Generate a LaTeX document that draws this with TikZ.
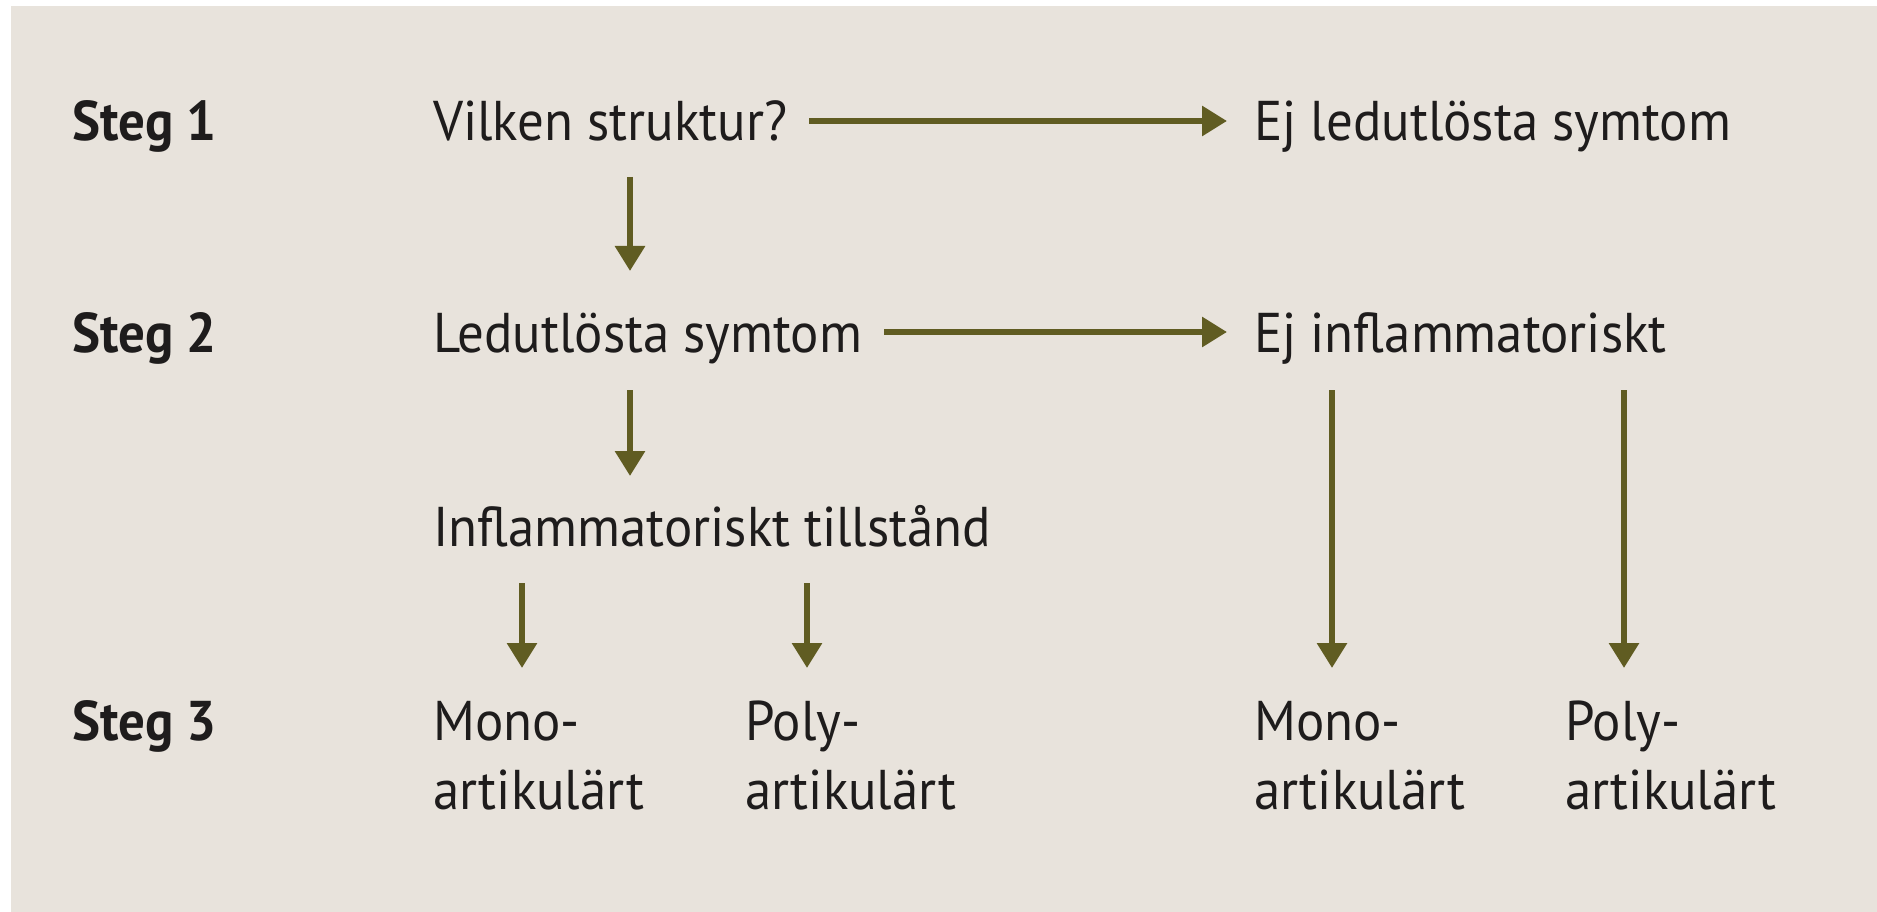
\documentclass[tikz,border=0pt]{standalone}
\usepackage{fontspec}
\setmainfont[FakeStretch=0.945]{PT Sans}
\usetikzlibrary{arrows.meta}
\definecolor{bgbeige}{RGB}{232,227,220}
\definecolor{olive}{RGB}{96,92,34}
\definecolor{ink}{RGB}{30,28,28}
\begin{document}
\begin{tikzpicture}[x=1pt,y=-1pt,
  txt/.style={anchor=base west,inner sep=0pt,text=ink,font=\fontsize{56}{69}\selectfont},
  lbl/.style={txt,font=\fontsize{56}{69}\selectfont\bfseries},
  arr/.style={draw=olive,line width=6pt,-{Triangle[length=25pt,width=29pt]}}]
\fill[white] (0,0) rectangle (1877,912);
\fill[bgbeige] (11,6) rectangle (1877,912);
\useasboundingbox (0,0) rectangle (1877,912);
% labels
\node[lbl] (s1) at (72,141) {Steg 1};
\node[lbl] (s2) at (72,352) {Steg 2};
\node[lbl] (s3) at (72,740) {Steg 3};
% texts
\node[txt] (a) at (433,141) {Vilken struktur?};
\node[txt] (b) at (1254,141) {Ej ledutlösta symtom};
\node[txt] (c) at (433,352) {Ledutlösta symtom};
\node[txt] (d) at (1254,352) {Ej inflammatoriskt};
\node[txt] (e) at (433,546) {Inflammatoriskt tillstånd};
\node[txt] (f) at (433,740) {\begin{tabular}[t]{@{}l@{}}Mono-\\artikulärt\end{tabular}};
\node[txt] (g) at (745,740) {\begin{tabular}[t]{@{}l@{}}Poly-\\artikulärt\end{tabular}};
\node[txt] (h) at (1254,740) {\begin{tabular}[t]{@{}l@{}}Mono-\\artikulärt\end{tabular}};
\node[txt] (k) at (1565,740) {\begin{tabular}[t]{@{}l@{}}Poly-\\artikulärt\end{tabular}};
% arrows
\draw[arr] ([shift={(22,-20)}]a.base east) -- ([shift={(-27,-20)}]b.base west);
\draw[arr] ([shift={(22,-20)}]c.base east) -- ([shift={(-27,-20)}]d.base west);
\draw[arr] ([shift={(197,36)}]a.base west) -- ([shift={(197,-81)}]c.base west);
\draw[arr] ([shift={(197,38)}]c.base west) -- ([shift={(197,-70)}]e.base west);
\draw[arr] ([shift={(89,37)}]e.base west) -- ([shift={(89,-72)}]f.base west);
\draw[arr] ([shift={(374,37)}]e.base west) -- ([shift={(62,-72)}]g.base west);
\draw[arr] ([shift={(78,38)}]d.base west) -- ([shift={(78,-72)}]h.base west);
\draw[arr] ([shift={(370,38)}]d.base west) -- ([shift={(59,-72)}]k.base west);
\end{tikzpicture}
\end{document}
